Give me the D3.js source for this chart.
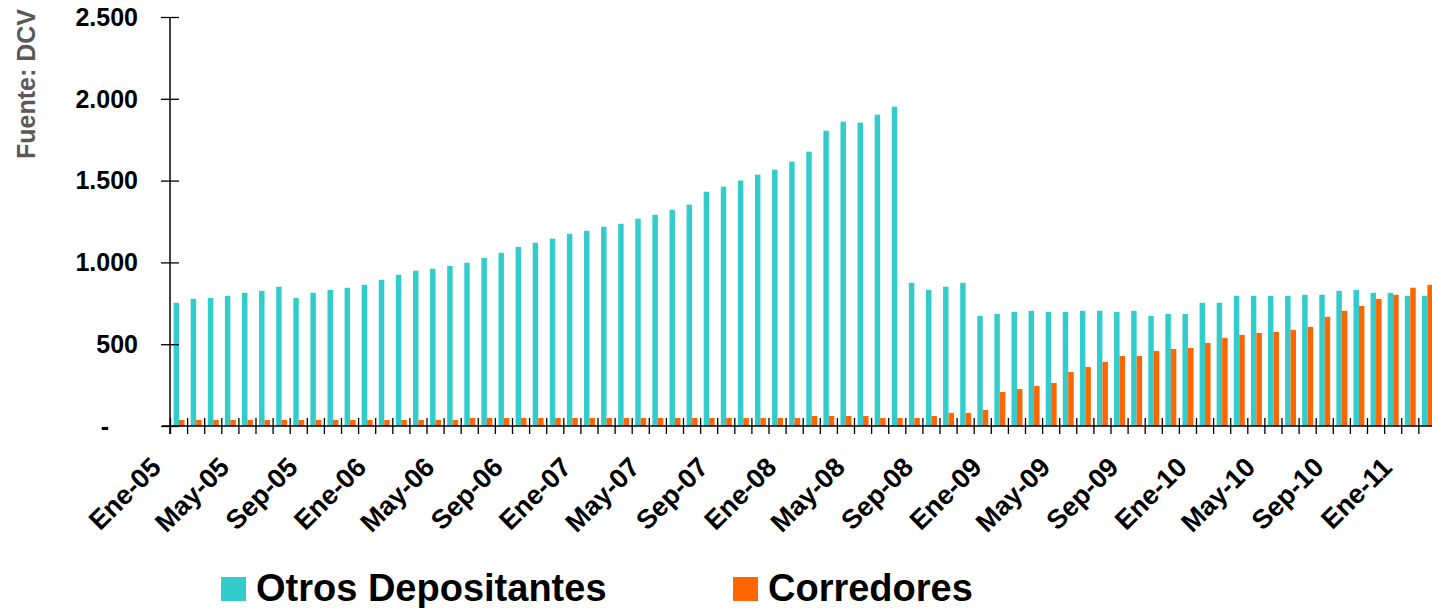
<!DOCTYPE html>
<html lang="es">
<head>
<meta charset="UTF-8">
<title>Otros Depositantes y Corredores</title>
<style>
  body { margin: 0; background: #fff; }
  svg { display: block; }
  text { font-family: "Liberation Sans", Arial, sans-serif; font-weight: bold; fill: #000; }
</style>
</head>
<body>
<svg width="1432" height="608"></svg>
<script src="https://d3js.org/d3.v7.min.js"></script>
<script>
  // datos mensuales desde Ene-05
  const MONTHS = ["Ene", "Feb", "Mar", "Abr", "May", "Jun", "Jul", "Ago", "Sep", "Oct", "Nov", "Dic"];
  const categories = d3.range(74).map(i => `${MONTHS[i % 12]}-${String(5 + Math.floor(i / 12)).padStart(2, "0")}`);

  const otros = [
    753, 777, 783, 796, 814, 826, 851, 783, 814, 832, 845, 863,
    894, 924, 949, 961, 979, 998, 1028, 1059, 1095, 1120, 1145, 1175,
    1193, 1218, 1236, 1267, 1291, 1322, 1353, 1432, 1463, 1500, 1536, 1567,
    1616, 1677, 1805, 1860, 1854, 1903, 1952, 875, 832, 851, 875, 673,
    685, 698, 704, 698, 698, 704, 704, 698, 704, 673, 685, 685,
    753, 753, 796, 796, 796, 796, 802, 802, 826, 832, 814, 814,
    796, 796
  ];
  const corredores = [
    37, 37, 37, 37, 37, 37, 37, 37, 37, 37, 37, 37,
    37, 37, 37, 37, 37, 49, 49, 49, 49, 49, 49, 49,
    49, 49, 49, 49, 49, 49, 49, 49, 49, 49, 49, 49,
    49, 61, 61, 61, 61, 49, 49, 49, 61, 80, 80, 98,
    208, 226, 245, 263, 330, 361, 392, 428, 428, 459, 471, 477,
    508, 539, 557, 569, 575, 588, 606, 667, 704, 734, 777, 802,
    845, 863
  ];
  const seriesNames = ["Otros Depositantes", "Corredores"];
  const seriesColors = ["#33CCCC", "#FF6600"];
  const yTicks = [0, 500, 1000, 1500, 2000, 2500];

  const svg = d3.select("svg");
  const step = 17.1;
  const plotLeft = 170, plotBase = 426, plotTop = 17;

  const x = d3.scaleBand().domain(categories)
    .range([plotLeft, plotLeft + step * categories.length])
    .paddingInner(0.36).paddingOuter(0.18);
  const xs = d3.scaleBand().domain(seriesNames).range([0, x.bandwidth()]);
  const y = d3.scaleLinear().domain([0, 2500]).range([plotBase, plotTop]);

  const rows = categories.map((c, i) => ({ cat: c, vals: [otros[i], corredores[i]] }));

  // barras
  seriesNames.forEach((name, k) => {
    svg.append("g").selectAll("rect")
      .data(rows)
      .join("rect")
      .attr("x", d => x(d.cat) + xs(name) + 0.5)
      .attr("width", xs.bandwidth())
      .attr("y", d => y(d.vals[k]))
      .attr("height", d => plotBase - y(d.vals[k]))
      .attr("fill", seriesColors[k]);
  });

  // eje x: marcas entre categorías
  const xEdge = d3.scaleLinear().domain([0, categories.length]).range(x.range());
  const gx = svg.append("g").attr("transform", `translate(0,${plotBase})`)
    .call(d3.axisBottom(xEdge).tickValues(d3.range(0, categories.length + 1)).tickSize(8).tickSizeOuter(0).tickFormat(""));
  gx.select(".domain").remove();
  gx.selectAll(".tick line").attr("y1", -8).attr("y2", 8).attr("stroke", "#000").attr("stroke-width", 1.3);
  svg.append("line").attr("x1", 162).attr("x2", 1432).attr("y1", plotBase).attr("y2", plotBase)
    .attr("stroke", "#000").attr("stroke-width", 1.5);

  svg.append("g").selectAll("text")
    .data(categories.filter((c, i) => i % 4 === 0))
    .join("text")
    .attr("transform", d => `translate(${x(d) + x.bandwidth() / 2 - 16},469) rotate(-45)`)
    .attr("text-anchor", "end")
    .attr("font-size", 27)
    .text(d => d);

  // eje y
  const fmt = d3.formatLocale({ decimal: ",", thousands: ".", grouping: [3], currency: ["$", ""] }).format(",");
  const gy = svg.append("g").attr("transform", `translate(${plotLeft},0)`)
    .call(d3.axisLeft(y).tickValues(yTicks).tickSize(9).tickSizeOuter(0).tickFormat(""));
  gy.select(".domain").remove();
  gy.selectAll(".tick line").attr("x1", 9).attr("stroke", "#000").attr("stroke-width", 1.3);
  svg.append("line").attr("x1", plotLeft).attr("x2", plotLeft).attr("y1", plotTop).attr("y2", plotBase + 8)
    .attr("stroke", "#000").attr("stroke-width", 1.5);

  svg.append("g").selectAll("text")
    .data(yTicks)
    .join("text")
    .attr("x", d => d === 0 ? 105 : 138)
    .attr("y", d => y(d))
    .attr("dy", "0.35em")
    .attr("text-anchor", d => d === 0 ? "middle" : "end")
    .attr("font-size", 25)
    .text(d => d === 0 ? "-" : fmt(d));

  svg.append("text")
    .attr("transform", "translate(35,84) rotate(-90)")
    .attr("text-anchor", "middle")
    .attr("font-family", "'Open Sans', sans-serif")
    .attr("font-size", 25)
    .style("fill", "#595959")
    .text("Fuente: DCV");

  // leyenda
  const legendX = [221, 733];
  seriesNames.forEach((name, k) => {
    svg.append("rect").attr("x", legendX[k]).attr("y", 577).attr("width", 25).attr("height", 24)
      .attr("fill", seriesColors[k]);
    svg.append("text").attr("x", legendX[k] + 35).attr("y", 601)
      .attr("font-size", 38).text(name);
  });
</script>
</body>
</html>
